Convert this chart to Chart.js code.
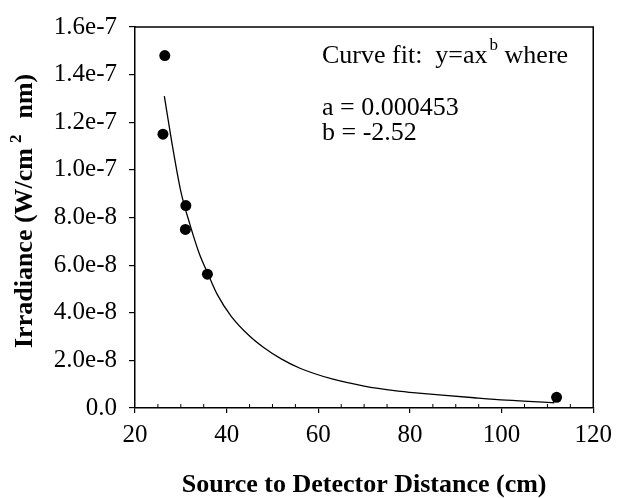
<!DOCTYPE html>
<html>
<head>
<meta charset="utf-8">
<script src="https://cdn.jsdelivr.net/npm/chart.js@4"></script>
<style>
html, body { margin: 0; padding: 0; background: #fff; }
#wrap { width: 619px; height: 498px; }
</style>
</head>
<body>
<div id="wrap"><canvas id="irrChart" width="619" height="498"></canvas></div>
<script>
// measured points
const distances = [26.5, 26.1, 31.1, 31.0, 35.8, 112];
const irradiance = [1.48e-7, 1.15e-7, 8.5e-8, 7.5e-8, 5.62e-8, 4.5e-9];

// fitted curve
const fitX = [26.4, 28, 30, 32, 34, 36, 38, 41, 45, 48, 52, 56, 63, 70, 77, 80, 87, 94, 101, 111.5];
const fitY = [1.31e-7, 1.12e-7, 9.1e-8, 7.7e-8, 6.5e-8, 5.6e-8, 4.75e-8, 3.85e-8, 3.02e-8, 2.55e-8,
              2.05e-8, 1.67e-8, 1.22e-8, 9.2e-9, 7.2e-9, 6.6e-9, 5.4e-9, 4.3e-9, 3.3e-9, 2.2e-9];

const xTickLabels = ['20', '40', '60', '80', '100', '120'];
const yTickLabels = ['0.0', '2.0e-8', '4.0e-8', '6.0e-8', '8.0e-8', '1.0e-7', '1.2e-7', '1.4e-7', '1.6e-7'];

const serif = "'Liberation Serif', 'Times New Roman', serif";

const framePlugin = {
    id: 'frame',
    afterDraw(chart) {
        const { ctx, chartArea, scales } = chart;
        ctx.save();
        ctx.strokeStyle = '#000';
        ctx.lineWidth = 1.5;
        // top and right sides of the box
        ctx.beginPath();
        ctx.moveTo(chartArea.left, chartArea.top);
        ctx.lineTo(chartArea.right, chartArea.top);
        ctx.lineTo(chartArea.right, chartArea.bottom);
        ctx.stroke();

        // minor ticks on x axis, pointing inward
        ctx.lineWidth = 1;
        for (let v = 25; v < 120; v += 5) {
            if (v % 20 === 0) continue;
            const px = scales.x.getPixelForValue(v);
            ctx.beginPath();
            ctx.moveTo(px, chartArea.bottom);
            ctx.lineTo(px, chartArea.bottom - 4);
            ctx.stroke();
        }

        ctx.fillStyle = '#000';
        ctx.textBaseline = 'alphabetic';

        // x axis title
        ctx.font = 'bold 26px ' + serif;
        ctx.textAlign = 'center';
        ctx.fillText('Source to Detector Distance (cm)', (chartArea.left + chartArea.right) / 2, 492);

        // y axis title with superscript
        ctx.save();
        ctx.translate(32, 348);
        ctx.rotate(-Math.PI / 2);
        ctx.textAlign = 'left';
        let x = 0;
        ctx.font = 'bold 26px ' + serif;
        const part1 = 'Irradiance (W/cm';
        ctx.fillText(part1, x, 0);
        x += ctx.measureText(part1).width + 5;
        ctx.font = 'bold 17px ' + serif;
        ctx.fillText('2', x, -11);
        x += ctx.measureText('2').width + 16;
        ctx.font = 'bold 26px ' + serif;
        ctx.fillText('nm)', x, 0);
        ctx.restore();

        // curve fit note
        ctx.font = '26px ' + serif;
        ctx.textAlign = 'left';
        let tx = 322;
        const fitLabel = 'Curve fit:  y=ax';
        ctx.fillText(fitLabel, tx, 63);
        tx += ctx.measureText(fitLabel).width + 2;
        ctx.font = '17px ' + serif;
        ctx.fillText('b', tx, 50);
        tx += ctx.measureText('b').width;
        ctx.font = '26px ' + serif;
        ctx.fillText(' where', tx, 63);
        ctx.fillText('a = 0.000453', 322, 115);
        ctx.fillText('b = -2.52', 322, 140);
        ctx.restore();
    }
};

new Chart(document.getElementById('irrChart'), {
    type: 'scatter',
    data: {
        datasets: [
            {
                label: 'Measured',
                data: distances.map((d, i) => ({ x: d, y: irradiance[i] })),
                backgroundColor: '#000',
                borderWidth: 0,
                pointRadius: 5.5
            },
            {
                label: 'Fit',
                data: fitX.map((d, i) => ({ x: d, y: fitY[i] })),
                showLine: true,
                borderColor: '#000',
                borderWidth: 1.3,
                pointRadius: 0,
                cubicInterpolationMode: 'monotone'
            }
        ]
    },
    options: {
        responsive: false,
        animation: false,
        layout: { padding: { left: 0, right: 20, top: 23, bottom: 0 } },
        plugins: {
            legend: { display: false },
            tooltip: { enabled: false }
        },
        scales: {
            x: {
                type: 'linear',
                min: 20,
                max: 120,
                afterFit: scale => { scale.height = 90; },
                ticks: {
                    stepSize: 20,
                    color: '#000',
                    padding: 7,
                    font: { family: serif, size: 25 },
                    callback: (v, i) => xTickLabels[i]
                },
                grid: { drawOnChartArea: false, drawTicks: true, tickLength: 5, color: '#000', lineWidth: 1.2 },
                border: { display: true, color: '#000', width: 1.5 }
            },
            y: {
                min: 0,
                max: 1.6e-7,
                afterFit: scale => { scale.width = 135; },
                ticks: {
                    stepSize: 2e-8,
                    color: '#000',
                    padding: 12,
                    font: { family: serif, size: 25 },
                    callback: (v, i) => yTickLabels[i]
                },
                grid: { drawOnChartArea: false, drawTicks: true, tickLength: 6, color: '#000', lineWidth: 1.2 },
                border: { display: true, color: '#000', width: 1.5 }
            }
        }
    },
    plugins: [framePlugin]
});
</script>
</body>
</html>
